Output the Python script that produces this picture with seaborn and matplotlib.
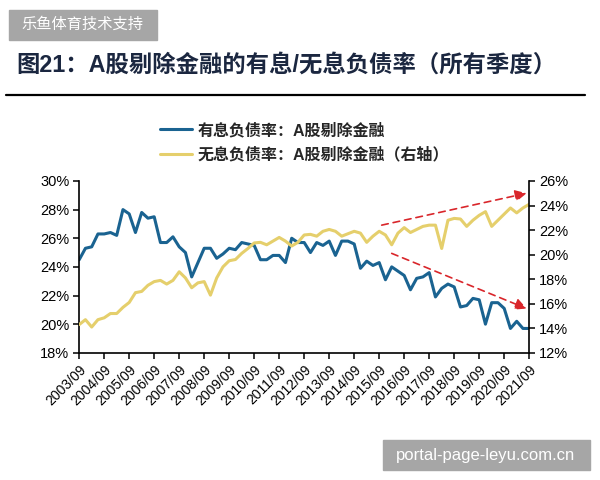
import matplotlib
matplotlib.use("Agg")
import matplotlib.pyplot as plt
import matplotlib.patches as mpatches
import numpy as np
import pandas as pd
import seaborn as sns

# quarterly series, 2003/09 .. 2021/09
interest_bearing = [
    24.5, 25.3, 25.4, 26.3, 26.3, 26.4, 26.2, 28.0, 27.7, 26.4,
    27.8, 27.4, 27.5, 25.7, 25.7, 26.1, 25.4, 25.0, 23.3, 24.3,
    25.3, 25.3, 24.6, 24.9, 25.3, 25.2, 25.7, 25.6, 25.5, 24.5,
    24.5, 24.8, 24.8, 24.3, 26.0, 25.7, 25.7, 25.0, 25.7, 25.5,
    25.8, 24.8, 25.8, 25.8, 25.6, 23.9, 24.4, 24.1, 24.3, 23.1,
    24.0, 23.7, 23.4, 22.4, 23.2, 23.3, 23.6, 21.9, 22.5, 22.8,
    22.6, 21.2, 21.3, 21.8, 21.7, 20.0, 21.5, 21.5, 21.1, 19.7,
    20.2, 19.7, 19.7,
]
non_interest = [
    14.3, 14.7, 14.1, 14.7, 14.85, 15.2, 15.2, 15.7, 16.1, 16.9,
    17.0, 17.5, 17.8, 17.9, 17.6, 17.9, 18.6, 18.1, 17.3, 17.7,
    17.8, 16.7, 18.1, 19.0, 19.5, 19.6, 20.1, 20.5, 20.95, 21.0,
    20.8, 21.1, 21.4, 21.1, 20.7, 21.0, 21.6, 21.65, 21.5, 21.9,
    22.05, 21.9, 21.5, 21.7, 21.9, 21.75, 21.0, 21.5, 21.9, 21.6,
    20.8, 21.75, 22.2, 21.8, 22.05, 22.3, 22.4, 22.4, 20.5, 22.8,
    22.95, 22.9, 22.3, 22.8, 23.2, 23.5, 22.3, 22.8, 23.3, 23.8,
    23.4, 23.8, 24.1,
]
year_labels = [
    "2003/09", "2004/09", "2005/09", "2006/09", "2007/09", "2008/09",
    "2009/09", "2010/09", "2011/09", "2012/09", "2013/09", "2014/09",
    "2015/09", "2016/09", "2017/09", "2018/09", "2019/09", "2020/09",
    "2021/09",
]
left_ticks = [18, 20, 22, 24, 26, 28, 30]
right_ticks = [12, 14, 16, 18, 20, 22, 24, 26]

label_blue = "有息负债率：A股剔除金融"
label_yellow = "无息负债率：A股剔除金融（右轴）"

df = pd.DataFrame({
    "quarter": np.arange(len(interest_bearing)),
    "interest": interest_bearing,
    "noninterest": non_interest,
})

sns.set_theme(style="ticks")
plt.rcParams["font.family"] = ["Liberation Sans", "Noto Sans CJK SC", "DejaVu Sans"]

blue = "#1a6391"
yellow = "#e5cf6c"
red = "#d9262b"

fig = plt.figure(figsize=(6, 4.8), dpi=100)
ax = fig.add_axes([0.132, 0.265, 0.75, 0.358])
ax2 = ax.twinx()

sns.lineplot(data=df, x="quarter", y="interest", ax=ax, color=blue, lw=2.2)
sns.lineplot(data=df, x="quarter", y="noninterest", ax=ax2, color=yellow, lw=2.2)

ax.set_xlim(0, len(interest_bearing) - 1)
ax.set_ylim(18, 30)
ax2.set_ylim(12, 26)
ax.set_xticks(np.arange(0, len(interest_bearing), 4))
ax.set_xticklabels(year_labels, rotation=45, ha="right", rotation_mode="anchor", fontsize=10)
ax.set_yticks(left_ticks)
ax.set_yticklabels([f"{v}%" for v in left_ticks], fontsize=10.5)
ax2.set_yticks(right_ticks)
ax2.set_yticklabels([f"{v}%" for v in right_ticks], fontsize=10.5)
ax.set_xlabel("")
ax.set_ylabel("")
ax2.set_ylabel("")

for a in (ax, ax2):
    a.spines["top"].set_visible(False)
    for s in ("left", "right", "bottom"):
        a.spines[s].set_color("black")
        a.spines[s].set_linewidth(1.2)
    a.tick_params(colors="black", length=4, width=1.1, pad=3)
ax.spines["right"].set_visible(False)
ax2.spines["left"].set_visible(False)
ax2.spines["bottom"].set_visible(False)
ax.grid(False)
ax2.grid(False)

# trend arrows (right-axis units)
for start, end in [((48.4, 22.4), (71.6, 25.0)), ((50.0, 20.1), (71.6, 15.6))]:
    ax2.annotate("", xy=end, xytext=start,
                 arrowprops=dict(arrowstyle="-|>", color=red, ls=(0, (4, 3)),
                                 lw=1.2, mutation_scale=17, fc=red, shrinkA=0, shrinkB=0))

handles = [plt.Line2D([], [], color=blue, lw=2.2), plt.Line2D([], [], color=yellow, lw=2.2)]
fig.legend(handles, [label_blue, label_yellow], loc="upper left",
           bbox_to_anchor=(0.243, 0.775), frameon=False,
           handlelength=2.0, handletextpad=0.35, labelspacing=0.55,
           prop={"weight": "bold", "size": 11.5})

fig.text(0.028, 0.865, "图21：A股剔除金融的有息/无息负债率（所有季度）",
         fontsize=16.8, fontweight="bold", color="#1b2740", va="center")
fig.add_artist(plt.Line2D([0.01, 0.975], [0.802, 0.802], color="black", lw=1.6))

# watermark boxes
fig.add_artist(mpatches.Rectangle((0.015, 0.917), 0.247, 0.063, color="#a6a6a6",
                                  transform=fig.transFigure))
fig.text(0.138, 0.948, "乐鱼体育技术支持", color="white", fontsize=11,
         ha="center", va="center")
fig.add_artist(mpatches.Rectangle((0.638, 0.021), 0.345, 0.063, color="#a6a6a6",
                                  transform=fig.transFigure))
fig.text(0.81, 0.052, "portal-page-leyu.com.cn", color="white", fontsize=12,
         ha="center", va="center")

fig.savefig("out.png", dpi=100)
